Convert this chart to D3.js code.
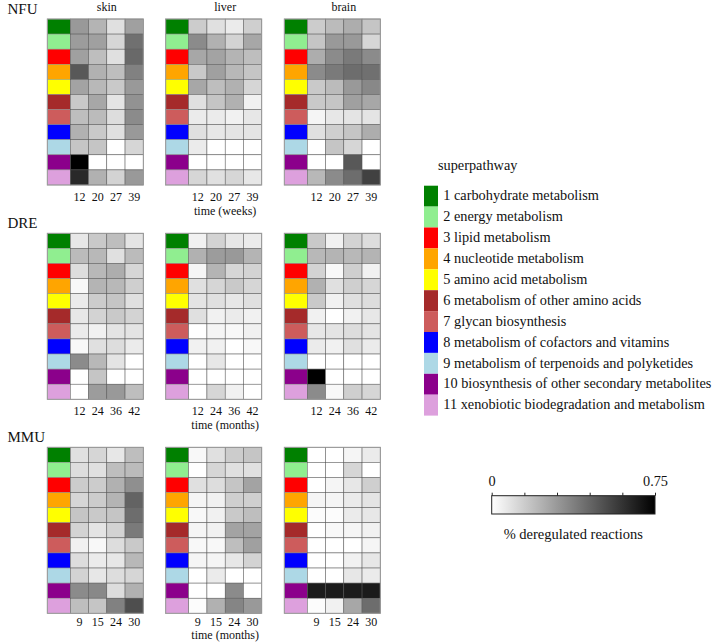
<!DOCTYPE html>
<html>
<head>
<meta charset="utf-8">
<script src="https://cdn.jsdelivr.net/npm/d3@7/dist/d3.min.js"></script>
<style>
  html, body { margin: 0; padding: 0; background: #fff; }
  svg text { font-family: "Liberation Serif", "Times New Roman", serif; fill: #111; }
</style>
</head>
<body>
<svg id="chart" width="724" height="642"></svg>
<script>
// ---------------- data ----------------
const superpathways = [
  "1 carbohydrate metabolism",
  "2 energy metabolism",
  "3 lipid metabolism",
  "4 nucleotide metabolism",
  "5 amino acid metabolism",
  "6 metabolism of other amino acids",
  "7 glycan biosynthesis",
  "8 metabolism of cofactors and vitamins",
  "9 metabolism of terpenoids and polyketides",
  "10 biosynthesis of other secondary metabolites",
  "11 xenobiotic biodegradation and metabolism"
];
const spColors = ["#008000","#90ee90","#ff0000","#ffa500","#ffff00","#a52a2a","#cd5c5c","#0000ff","#add8e6","#8b008b","#dda0dd"];
const species = ["NFU", "DRE", "MMU"];
const tissues = ["skin", "liver", "brain"];
const nfuTimes = ["12", "20", "27", "39"];
const dreTimes = ["12", "24", "36", "42"];
const mmuTimes = ["9", "15", "24", "30"];
const timeUnits = ["time (weeks)", "time (months)", "time (months)"];
const colorbarTicks = [0, 0.15, 0.3, 0.45, 0.6, 0.75];
const colorbarLabels = [0, 0.75];

// values: one array per time point, 11 superpathways each (% deregulated reactions)
const nfuSkin = [
  [0.30, 0.29, 0.28, 0.49, 0.27, 0.16, 0.19, 0.23, 0.17, 0.75, 0.63],
  [0.22, 0.28, 0.19, 0.23, 0.21, 0.26, 0.20, 0.16, 0.17, 0.00, 0.23],
  [0.09, 0.12, 0.09, 0.19, 0.16, 0.08, 0.10, 0.09, 0.00, 0.00, 0.13],
  [0.28, 0.42, 0.44, 0.37, 0.30, 0.32, 0.34, 0.30, 0.12, 0.00, 0.30]
];
const nfuLiver = [
  [0.15, 0.34, 0.26, 0.16, 0.26, 0.09, 0.06, 0.09, 0.06, 0.00, 0.12],
  [0.09, 0.23, 0.27, 0.28, 0.19, 0.17, 0.06, 0.07, 0.00, 0.00, 0.09],
  [0.06, 0.13, 0.22, 0.21, 0.23, 0.23, 0.04, 0.08, 0.00, 0.00, 0.12],
  [0.14, 0.26, 0.19, 0.17, 0.12, 0.04, 0.07, 0.08, 0.00, 0.00, 0.07]
];
const nfuBrain = [
  [0.15, 0.17, 0.24, 0.34, 0.16, 0.16, 0.03, 0.09, 0.00, 0.00, 0.21],
  [0.20, 0.30, 0.34, 0.39, 0.20, 0.17, 0.07, 0.14, 0.17, 0.00, 0.34],
  [0.24, 0.30, 0.39, 0.43, 0.30, 0.28, 0.08, 0.17, 0.12, 0.49, 0.43],
  [0.17, 0.12, 0.34, 0.42, 0.35, 0.26, 0.08, 0.24, 0.00, 0.00, 0.56]
];
const dreSkin = [
  [0.07, 0.20, 0.10, 0.02, 0.06, 0.07, 0.06, 0.02, 0.34, 0.00, 0.00],
  [0.16, 0.21, 0.21, 0.22, 0.15, 0.13, 0.04, 0.09, 0.21, 0.17, 0.29],
  [0.19, 0.09, 0.24, 0.21, 0.17, 0.16, 0.08, 0.10, 0.08, 0.00, 0.30],
  [0.08, 0.20, 0.12, 0.14, 0.09, 0.13, 0.08, 0.06, 0.00, 0.00, 0.19]
];
const dreLiver = [
  [0.04, 0.23, 0.03, 0.09, 0.08, 0.09, 0.00, 0.04, 0.00, 0.00, 0.00],
  [0.13, 0.29, 0.22, 0.12, 0.09, 0.04, 0.03, 0.04, 0.07, 0.00, 0.12],
  [0.07, 0.30, 0.12, 0.16, 0.07, 0.06, 0.02, 0.00, 0.00, 0.00, 0.04],
  [0.06, 0.22, 0.13, 0.12, 0.09, 0.04, 0.04, 0.02, 0.00, 0.00, 0.00]
];
const dreBrain = [
  [0.16, 0.21, 0.13, 0.23, 0.16, 0.04, 0.07, 0.06, 0.00, 0.75, 0.34],
  [0.04, 0.22, 0.02, 0.09, 0.04, 0.00, 0.08, 0.04, 0.00, 0.00, 0.02],
  [0.13, 0.21, 0.14, 0.14, 0.09, 0.04, 0.10, 0.09, 0.00, 0.00, 0.14],
  [0.10, 0.22, 0.04, 0.12, 0.10, 0.07, 0.08, 0.06, 0.00, 0.00, 0.12]
];
const mmuSkin = [
  [0.09, 0.10, 0.15, 0.12, 0.17, 0.13, 0.04, 0.10, 0.13, 0.34, 0.19],
  [0.12, 0.09, 0.15, 0.15, 0.16, 0.08, 0.02, 0.06, 0.07, 0.35, 0.17],
  [0.07, 0.19, 0.23, 0.22, 0.17, 0.13, 0.10, 0.07, 0.10, 0.10, 0.37],
  [0.19, 0.20, 0.33, 0.46, 0.43, 0.39, 0.16, 0.21, 0.12, 0.23, 0.52]
];
const mmuLiver = [
  [0.02, 0.00, 0.09, 0.03, 0.02, 0.03, 0.02, 0.03, 0.00, 0.00, 0.01],
  [0.09, 0.12, 0.10, 0.04, 0.04, 0.04, 0.02, 0.03, 0.06, 0.00, 0.23],
  [0.15, 0.09, 0.17, 0.14, 0.16, 0.27, 0.19, 0.07, 0.00, 0.34, 0.36],
  [0.17, 0.09, 0.27, 0.14, 0.19, 0.27, 0.28, 0.13, 0.00, 0.00, 0.30]
];
const mmuBrain = [
  [0.00, 0.00, 0.00, 0.03, 0.01, 0.00, 0.00, 0.00, 0.00, 0.67, 0.01],
  [0.00, 0.00, 0.03, 0.03, 0.01, 0.02, 0.00, 0.00, 0.00, 0.67, 0.04],
  [0.03, 0.12, 0.07, 0.06, 0.06, 0.03, 0.00, 0.04, 0.07, 0.67, 0.26],
  [0.06, 0.00, 0.14, 0.08, 0.07, 0.04, 0.03, 0.07, 0.06, 0.67, 0.43]
];

// ---------------- layout ----------------
const svg = d3.select("#chart");
const panelData = [
  [nfuSkin, nfuLiver, nfuBrain],
  [dreSkin, dreLiver, dreBrain],
  [mmuSkin, mmuLiver, mmuBrain]
];
const rowTimes = [nfuTimes, dreTimes, mmuTimes];
const panelLeft = [47.3, 165.7, 284.3];
const panelTop = [19, 233.3, 447.3];
const tickBaseline = [201.3, 415, 625.5];
const unitBaseline = [214.5, 429, 638.5];
const colorColW = 23, panelW = 96, panelH = 166;

const grey = d3.scaleLinear().domain([0, 0.75]).range(["#ffffff", "#000000"]).clamp(true);

species.forEach((sp, r) => {
  const top = panelTop[r];
  svg.append("text")
    .attr("x", 7.5).attr("y", top - 5.5)
    .style("font-size", "15px")
    .text(sp);

  const y = d3.scaleBand().domain(d3.range(superpathways.length)).range([top, top + panelH]);

  tissues.forEach((tis, c) => {
    const left = panelLeft[c];
    const g = svg.append("g");
    const x = d3.scaleBand().domain(rowTimes[r]).range([left + colorColW, left + panelW]);

    if (r === 0) {
      svg.append("text")
        .attr("x", left + colorColW + (panelW - colorColW) / 2)
        .attr("y", 10.5)
        .attr("text-anchor", "middle")
        .style("font-size", "12px")
        .text(tis);
    }

    // superpathway colour column
    g.selectAll("rect.sp")
      .data(spColors)
      .join("rect")
      .attr("class", "sp")
      .attr("x", left)
      .attr("y", (d, i) => y(i))
      .attr("width", colorColW)
      .attr("height", y.bandwidth())
      .attr("fill", d => d)
      .attr("stroke", "#8a8a8a")
      .attr("stroke-width", 0.5);

    // heatmap cells
    const cells = [];
    panelData[r][c].forEach((col, ti) => {
      col.forEach((v, si) => cells.push({ t: rowTimes[r][ti], s: si, v: v }));
    });
    g.selectAll("rect.cell")
      .data(cells)
      .join("rect")
      .attr("class", "cell")
      .attr("x", d => x(d.t))
      .attr("y", d => y(d.s))
      .attr("width", x.bandwidth())
      .attr("height", y.bandwidth())
      .attr("fill", d => grey(d.v))
      .attr("stroke", "#555")
      .attr("stroke-width", 0.5);

    // outer border
    g.append("rect")
      .attr("x", left).attr("y", top)
      .attr("width", panelW).attr("height", panelH)
      .attr("fill", "none")
      .attr("stroke", "#9a9a9a")
      .attr("stroke-width", 1);

    // time axis
    const ax = svg.append("g")
      .attr("transform", `translate(0,${tickBaseline[r]})`)
      .call(d3.axisBottom(x).tickSize(0).tickPadding(0));
    ax.select(".domain").remove();
    ax.selectAll("text")
      .attr("dy", "0")
      .attr("y", 0)
      .style("font-size", "12px")
      .style("font-family", '"Liberation Serif", "Times New Roman", serif')
      .attr("fill", "#111");

    if (c === 1) {
      svg.append("text")
        .attr("x", left + colorColW + (panelW - colorColW) / 2)
        .attr("y", unitBaseline[r])
        .attr("text-anchor", "middle")
        .style("font-size", "12px")
        .text(timeUnits[r]);
    }
  });
});

// ---------------- legend ----------------
const legX = 424, legTop = 185.7, legSw = 14, legRow = 20.9;
svg.append("text")
  .attr("x", 438).attr("y", 170)
  .style("font-size", "14.3px")
  .text("superpathway");
const ly = d3.scaleBand().domain(d3.range(superpathways.length)).range([legTop, legTop + legRow * superpathways.length]);
const leg = svg.append("g");
leg.selectAll("rect")
  .data(spColors)
  .join("rect")
  .attr("x", legX)
  .attr("y", (d, i) => ly(i))
  .attr("width", legSw)
  .attr("height", ly.bandwidth())
  .attr("fill", d => d);
leg.selectAll("text")
  .data(superpathways)
  .join("text")
  .attr("x", 443.3)
  .attr("y", (d, i) => ly(i) + ly.bandwidth() / 2 + 4.2)
  .style("font-size", "14.3px")
  .text(d => d);

// ---------------- colour bar ----------------
const cbX0 = 491.7, cbX1 = 655, cbY = 495.7, cbH = 18.3;
const defs = svg.append("defs");
const grad = defs.append("linearGradient").attr("id", "cbgrad").attr("x1", "0%").attr("x2", "100%");
d3.range(0, 1.0001, 0.1).forEach(t => {
  grad.append("stop").attr("offset", (t * 100) + "%").attr("stop-color", grey(t * 0.75));
});
svg.append("rect")
  .attr("x", cbX0).attr("y", cbY)
  .attr("width", cbX1 - cbX0).attr("height", cbH)
  .attr("fill", "url(#cbgrad)")
  .attr("stroke", "#222")
  .attr("stroke-width", 1);
const cbScale = d3.scaleLinear().domain([0, 0.75]).range([cbX0, cbX1]);
const cbAxis = svg.append("g")
  .attr("transform", `translate(0,${cbY})`)
  .call(d3.axisTop(cbScale).tickValues(colorbarTicks).tickSize(3).tickPadding(7)
    .tickFormat(d => colorbarLabels.includes(d) ? String(d) : ""));
cbAxis.select(".domain").remove();
cbAxis.selectAll("line").attr("stroke", "#222");
cbAxis.selectAll("text")
  .style("font-size", "14.3px")
  .style("font-family", '"Liberation Serif", "Times New Roman", serif')
  .attr("fill", "#111");
svg.append("text")
  .attr("x", 573.3).attr("y", 539)
  .attr("text-anchor", "middle")
  .style("font-size", "14.5px")
  .text("% deregulated reactions");
</script>
</body>
</html>
